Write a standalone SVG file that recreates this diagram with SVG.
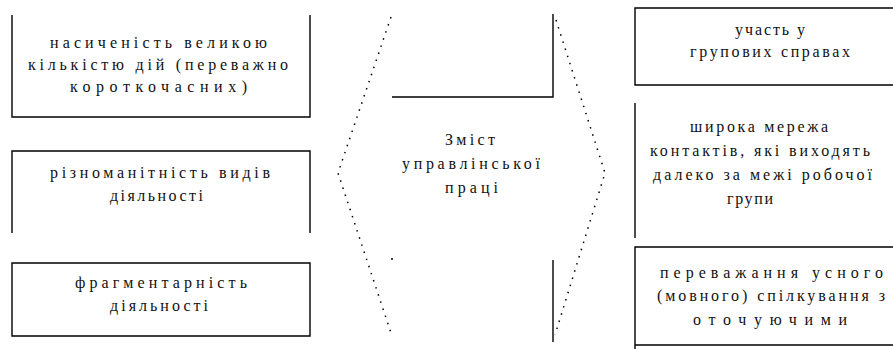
<svg xmlns="http://www.w3.org/2000/svg" width="893" height="349" viewBox="0 0 893 349">
<style>
.edge{fill:none;stroke:#000;stroke-width:1.4}
.dot{fill:none;stroke:#000;stroke-width:1.5;stroke-dasharray:1.5 6}
text{font-family:"Liberation Serif","Times New Roman",serif;font-size:16px;fill:#111}
</style>
<rect width="893" height="349" fill="#fff"/>
<g id="box-l1">
<path class="edge" d="M12,15 V117 H310 V15"/>
<text x="50" y="48" textLength="217" lengthAdjust="spacing">насиченість великою</text>
<text x="28" y="70" textLength="260" lengthAdjust="spacing">кількістю дій (переважно</text>
<text x="70" y="92" textLength="177" lengthAdjust="spacing">короткочасних)</text>
</g>
<g id="box-l2">
<path class="edge" d="M12,233 V151 H310 V233"/>
<text x="50" y="178" textLength="220" lengthAdjust="spacing">різноманітність видів</text>
<text x="110" y="201" textLength="93" lengthAdjust="spacing">діяльності</text>
</g>
<g id="box-l3">
<path class="edge" d="M12,263 H310 V336 H12 Z"/>
<text x="75" y="288" textLength="172" lengthAdjust="spacing">фрагментарність</text>
<text x="110" y="311" textLength="98" lengthAdjust="spacing">діяльності</text>
</g>
<g id="center">
<path class="dot" d="M391,17 L338,173 L391,333"/>
<path class="dot" d="M556,20 L605,173 L555,335"/>
<path class="edge" d="M392,97 H553 V14"/>
<path class="edge" d="M553,260 V342"/>
<circle cx="392" cy="259" r="1" fill="#000"/>
<text x="445" y="145" textLength="50" lengthAdjust="spacing">Зміст</text>
<text x="402" y="169" textLength="138" lengthAdjust="spacing">управлінської</text>
<text x="445" y="193" textLength="53" lengthAdjust="spacing">праці</text>
</g>
<g id="box-r1">
<path class="edge" d="M893,8 H635 V85 H893"/>
<text x="735" y="35" textLength="70" lengthAdjust="spacing">участь у</text>
<text x="690" y="57" textLength="160" lengthAdjust="spacing">групових справах</text>
</g>
<g id="box-r2">
<path class="edge" d="M635,103 V238"/>
<text x="690" y="132" textLength="138" lengthAdjust="spacing">широка мережа</text>
<text x="650" y="156" textLength="220" lengthAdjust="spacing">контактів, які виходять</text>
<text x="653" y="180" textLength="219" lengthAdjust="spacing">далеко за межі робочої</text>
<text x="727" y="204" textLength="46" lengthAdjust="spacing">групи</text>
</g>
<g id="box-r3">
<path class="edge" d="M893,247 H635 V349"/>
<path class="edge" d="M635,345 H893"/>
<text x="660" y="278" textLength="223" lengthAdjust="spacing">переважання усного</text>
<text x="657" y="301" textLength="228" lengthAdjust="spacing">(мовного) спілкування з</text>
<text x="693" y="325" textLength="154" lengthAdjust="spacing">оточуючими</text>
</g>
</svg>
